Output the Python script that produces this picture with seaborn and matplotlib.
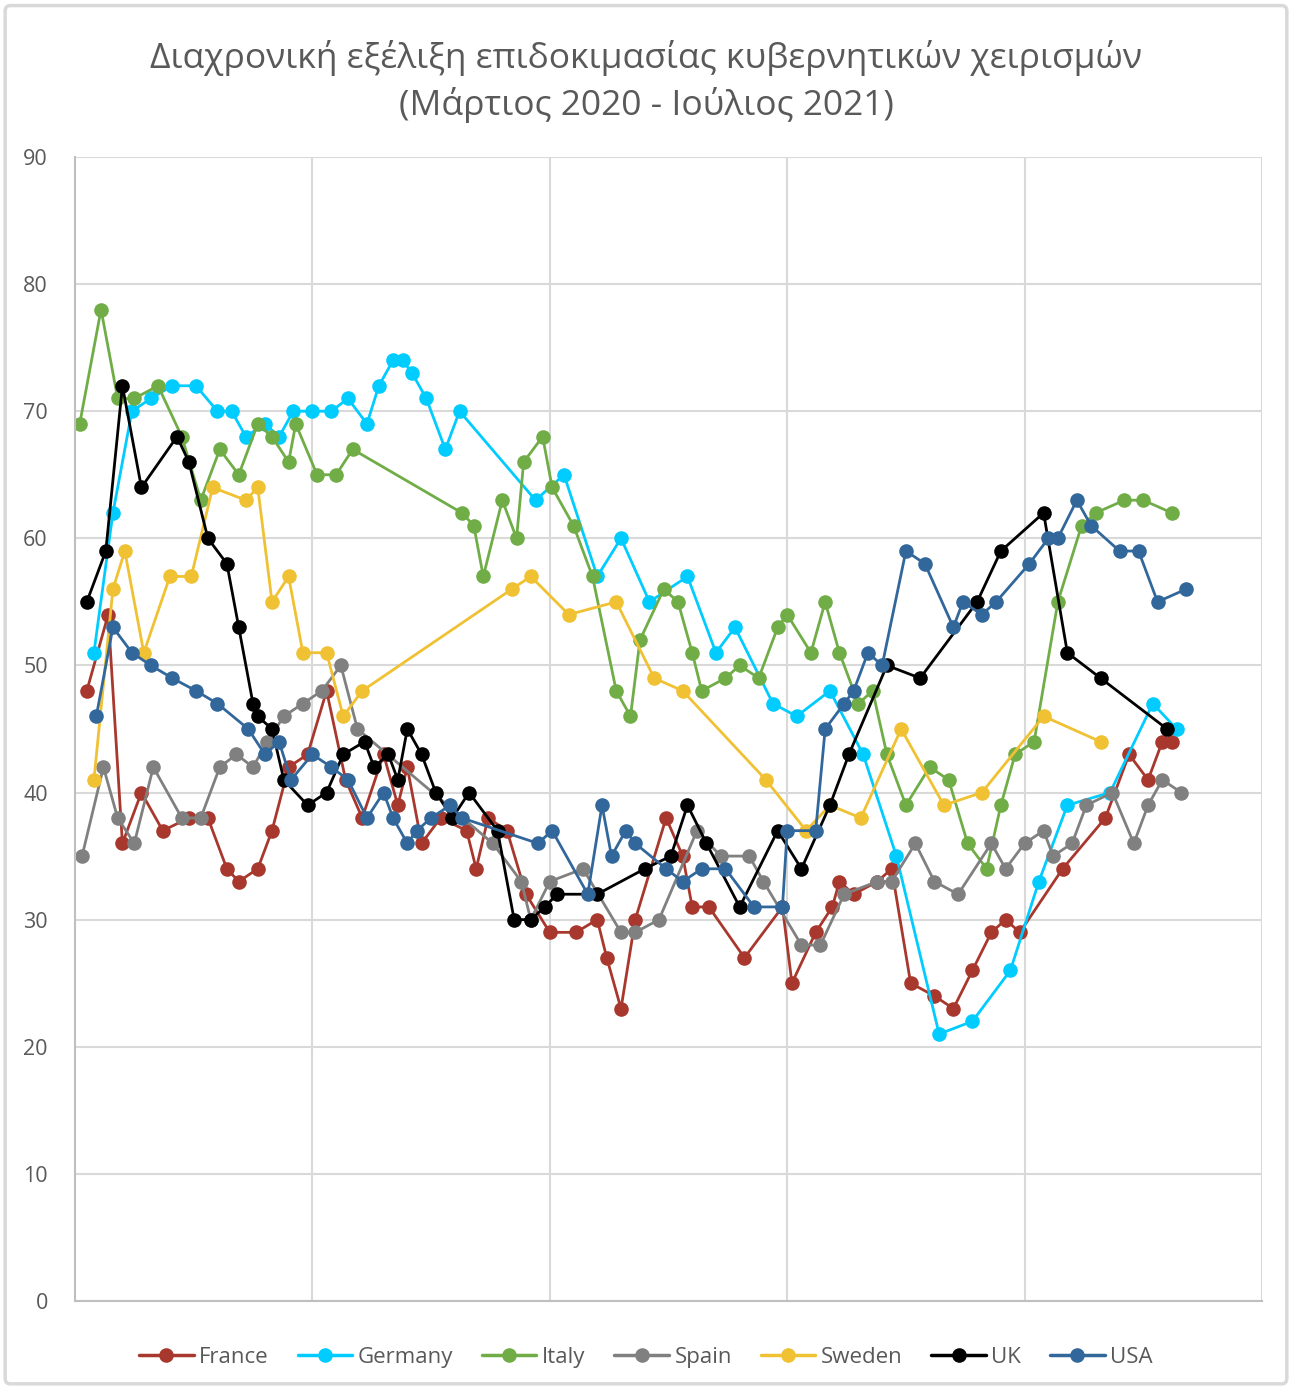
import numpy as np
import pandas as pd
import seaborn as sns
import matplotlib.pyplot as plt
from matplotlib.lines import Line2D
from matplotlib.patches import FancyBboxPatch

# days since 1 March 2020 / approval (%)
france_x = [5, 14, 20, 28, 37, 48, 56, 64, 69, 77, 83, 90, 98, 106, 114, 121, 130, 136, 140, 146,
            154, 165, 169, 174, 182, 190, 200, 211, 220, 224, 230, 236, 249, 256, 260, 267, 282,
            298, 302, 312, 319, 322, 328, 338, 344, 352, 362, 370, 378, 386, 392, 398, 416, 434,
            444, 452, 458, 462]
france_y = [48, 54, 36, 40, 37, 38, 38, 34, 33, 34, 37, 42, 43, 48, 41, 38, 43, 39, 42, 36,
            38, 37, 34, 38, 37, 32, 29, 29, 30, 27, 23, 30, 38, 35, 31, 31, 27,
            31, 25, 29, 31, 33, 32, 33, 34, 25, 24, 23, 26, 29, 30, 29, 34, 38,
            43, 41, 44, 44]

germany_x = [8, 16, 24, 32, 41, 51, 60, 66, 72, 80, 86, 92, 100, 108, 115, 123, 128, 134, 138,
             142, 148, 156, 162, 194, 206, 220, 230, 242, 258, 270, 278, 294, 304, 318, 332, 346,
             364, 378, 394, 406, 418, 436, 454, 464]
germany_y = [51, 62, 70, 71, 72, 72, 70, 70, 68, 69, 68, 70, 70, 70, 71, 69, 72, 74, 74,
             73, 71, 67, 70, 63, 65, 57, 60, 55, 57, 51, 53, 47, 46, 48, 43, 35,
             21, 22, 26, 33, 39, 40, 47, 45]

italy_x = [2, 11, 18, 25, 35, 45, 53, 61, 69, 77, 83, 90, 93, 102, 110, 117, 163, 168, 172, 180,
           186, 189, 197, 201, 210, 218, 228, 234, 238, 248, 254, 260, 264, 274, 280, 288, 296,
           300, 310, 316, 322, 330, 336, 342, 350, 360, 368, 376, 384, 390, 396, 404, 414, 424,
           430, 442, 450, 462]
italy_y = [69, 78, 71, 71, 72, 68, 63, 67, 65, 69, 68, 66, 69, 65, 65, 67, 62, 61, 57, 63,
           60, 66, 68, 64, 61, 57, 48, 46, 52, 56, 55, 51, 48, 49, 50, 49, 53,
           54, 51, 55, 51, 47, 48, 43, 39, 42, 41, 36, 34, 39, 43, 44, 55, 61,
           62, 63, 63, 62]

spain_x = [3, 12, 18, 25, 33, 45, 53, 61, 68, 75, 81, 88, 96, 104, 112, 119, 176, 188, 192, 200,
           214, 230, 236, 246, 262, 272, 284, 290, 306, 314, 324, 338, 344, 354, 362, 372, 386,
           392, 400, 408, 412, 420, 426, 437, 446, 452, 458, 466]
spain_y = [35, 42, 38, 36, 42, 38, 38, 42, 43, 42, 44, 46, 47, 48, 50, 45, 36, 33, 30, 33,
           34, 29, 29, 30, 37, 35, 35, 33, 28, 28, 32, 33, 33, 36, 33, 32, 36,
           34, 36, 37, 35, 36, 39, 40, 36, 39, 41, 40]

sweden_x = [8, 16, 21, 29, 40, 49, 58, 72, 77, 83, 90, 96, 106, 113, 121, 184, 192, 208, 228,
            244, 256, 291, 308, 318, 331, 348, 366, 382, 408, 432]
sweden_y = [41, 56, 59, 51, 57, 57, 64, 63, 64, 55, 57, 51, 51, 46, 48, 56, 57, 54, 55,
            49, 48, 41, 37, 39, 38, 45, 39, 40, 46, 44]

uk_x = [5, 13, 20, 28, 43, 48, 56, 64, 69, 75, 77, 83, 88, 98, 106, 113, 122, 126, 132, 136,
        140, 146, 152, 159, 166, 178, 185, 192, 198, 203, 220, 240, 251, 258, 266, 280, 296,
        306, 318, 326, 342, 356, 380, 390, 408, 418, 432, 460]
uk_y = [55, 59, 72, 64, 68, 66, 60, 58, 53, 47, 46, 45, 41, 39, 40, 43, 44, 42, 43, 41,
        45, 43, 40, 38, 40, 37, 30, 30, 31, 32, 32, 34, 35, 39, 36, 31, 37,
        34, 39, 43, 50, 49, 55, 59, 62, 51, 49, 45]

usa_x = [9, 16, 24, 32, 41, 51, 60, 73, 80, 86, 91, 100, 108, 115, 123, 130, 134, 140, 144, 150,
         158, 163, 195, 201, 216, 222, 226, 232, 236, 249, 256, 264, 274, 286, 298, 300, 312,
         316, 324, 328, 334, 340, 350, 358, 370, 374, 382, 388, 402, 410, 414, 422, 428, 440,
         448, 456, 468]
usa_y = [46, 53, 51, 50, 49, 48, 47, 45, 43, 44, 41, 43, 42, 41, 38, 40, 38, 36, 37, 38,
         39, 38, 36, 37, 32, 39, 35, 37, 36, 34, 33, 34, 34, 31, 31, 37, 37,
         45, 47, 48, 51, 50, 59, 58, 53, 55, 54, 55, 58, 60, 60, 63, 61, 59,
         59, 55, 56]

countries = ["France", "Germany", "Italy", "Spain", "Sweden", "UK", "USA"]
colors = ["#A8382E", "#00CCFF", "#70AD47", "#808080", "#EFC133", "#000000", "#32679B"]
series = [(france_x, france_y), (germany_x, germany_y), (italy_x, italy_y),
          (spain_x, spain_y), (sweden_x, sweden_y), (uk_x, uk_y), (usa_x, usa_y)]

title = "Διαχρονική εξέλιξη επιδοκιμασίας κυβερνητικών χειρισμών\n(Μάρτιος 2020 - Ιούλιος 2021)"

frames = []
for name, (xs, ys) in zip(countries, series):
    frames.append(pd.DataFrame({"day": xs, "approval": ys, "country": name}))
df = pd.concat(frames, ignore_index=True)

sns.set_theme(style="white")
plt.rcParams['font.family'] = ['Open Sans', 'DejaVu Sans']
text_gray = "#595959"
grid_gray = "#D9D9D9"

fig = plt.figure(figsize=(12.92, 13.88), dpi=100)
fig.patches.append(FancyBboxPatch((0.004, 0.003), 0.992, 0.993, boxstyle="round,pad=0,rounding_size=0.004",
                                  transform=fig.transFigure, facecolor="none",
                                  edgecolor="#D9D9D9", linewidth=2.5, zorder=-1))
ax = fig.add_axes([0.058, 0.0627, 0.9188, 0.8242])
ax.patch.set_alpha(0)

palette = dict(zip(countries, colors))
sns.lineplot(data=df, x="day", y="approval", hue="country", hue_order=countries,
             palette=palette, estimator=None, sort=False, marker="o", markersize=10.5,
             markeredgewidth=0, linewidth=2.0, legend=False, ax=ax)

ax.set_xlim(0, 500)
ax.set_ylim(0, 90)
ax.set_yticks(np.arange(0, 91, 10))
ax.set_xticks([100, 200, 300, 400, 500])
ax.set_xticklabels([])
ax.grid(True, color=grid_gray, linewidth=1.5)
ax.set_axisbelow(True)
for side in ["top", "right"]:
    ax.spines[side].set_visible(False)
ax.spines["left"].set_color("#BFBFBF")
ax.spines["bottom"].set_color("#BFBFBF")
ax.spines["left"].set_linewidth(1.5)
ax.spines["bottom"].set_linewidth(1.5)
ax.tick_params(axis="y", length=0, pad=19.5, labelsize=15.5, labelcolor=text_gray)
ax.tick_params(axis="x", length=0)
ax.set_xlabel("")
ax.set_ylabel("")

fig.text(0.5, 0.941, title, ha="center", va="center", fontsize=25.5, color=text_gray,
         linespacing=1.4)

handles = [Line2D([], [], color=c, marker="o", markersize=10.5, markeredgewidth=0, linewidth=2.5)
           for c in colors]
fig.legend(handles, countries, loc="center", bbox_to_anchor=(0.5, 0.022), ncol=7,
           frameon=False, fontsize=16, labelcolor=text_gray, handlelength=2.45,
           handletextpad=0.25, columnspacing=1.3)

fig.savefig("out.png", dpi=100)
